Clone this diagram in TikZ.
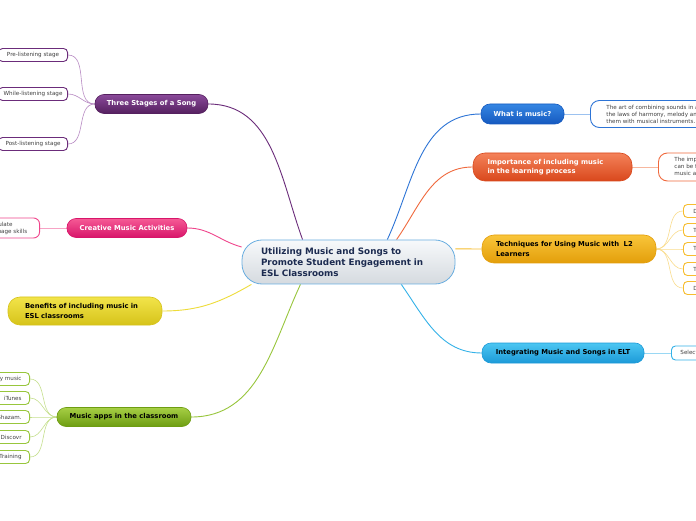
\documentclass[tikz,border=0pt]{standalone}
\usepackage{fontspec}
\setmainfont{DejaVu Sans}
\usepackage{xcolor}
\usepackage{tikz}
\usetikzlibrary{positioning,backgrounds}

\definecolor{hubTop}{HTML}{F7F9FB}
\definecolor{hubBot}{HTML}{D5DADF}
\definecolor{hubEdge}{HTML}{6AAEE0}
\definecolor{hubText}{HTML}{1C2B50}
\definecolor{leafText}{HTML}{404040}
\definecolor{purpleTop}{HTML}{8A4A9A}
\definecolor{purpleBot}{HTML}{55205F}
\definecolor{purpleLine}{HTML}{6B2C7A}
\definecolor{purpleSoft}{HTML}{B98CC4}
\definecolor{pinkTop}{HTML}{F55A95}
\definecolor{pinkBot}{HTML}{D8156A}
\definecolor{pinkLine}{HTML}{F0458C}
\definecolor{pinkSoft}{HTML}{F7A3C5}
\definecolor{yellowTop}{HTML}{F2E44A}
\definecolor{yellowBot}{HTML}{D6C31A}
\definecolor{yellowLine}{HTML}{EEDC3A}
\definecolor{greenTop}{HTML}{A6CF45}
\definecolor{greenBot}{HTML}{6E9D12}
\definecolor{greenLine}{HTML}{98C63C}
\definecolor{greenSoft}{HTML}{C6E08E}
\definecolor{blueTop}{HTML}{3586E3}
\definecolor{blueBot}{HTML}{1559BF}
\definecolor{blueLine}{HTML}{2D74D6}
\definecolor{blueSoft}{HTML}{9CC2F0}
\definecolor{orangeTop}{HTML}{F4825A}
\definecolor{orangeBot}{HTML}{D9481C}
\definecolor{orangeLine}{HTML}{F06A3E}
\definecolor{orangeSoft}{HTML}{F7B79E}
\definecolor{goldTop}{HTML}{F9C53A}
\definecolor{goldBot}{HTML}{E39E0A}
\definecolor{goldLine}{HTML}{F7BD2E}
\definecolor{goldSoft}{HTML}{FADC8C}
\definecolor{cyanTop}{HTML}{4CC6F2}
\definecolor{cyanBot}{HTML}{1C9AD8}
\definecolor{cyanLine}{HTML}{34B2E8}
\definecolor{cyanSoft}{HTML}{9AD8F4}

\begin{document}
\begin{tikzpicture}[
  x=1pt,
  y=1pt,
  hub/.style={
    draw=hubEdge,
    line width=0.8pt,
    top color=hubTop,
    bottom color=hubBot,
    rounded corners=20pt,
    minimum width=213pt,
    minimum height=44pt,
    text width=175pt,
    inner xsep=19pt,
    align=left,
    text=hubText,
    font=\fontsize{8.8}{11}\selectfont\bfseries
  },
  branch/.style={
    draw=#1Bot,
    line width=0.6pt,
    top color=#1Top,
    bottom color=#1Bot,
    rounded corners=9pt,
    minimum height=19pt,
    inner ysep=2pt,
    font=\fontsize{6.8}{9.5}\selectfont\bfseries
  },
  leaf/.style={
    draw=#1Line,
    fill=white,
    line width=0.9pt,
    rounded corners=4pt,
    minimum height=13pt,
    inner ysep=1.5pt,
    text=leafText,
    font=\fontsize{5.6}{7}\selectfont
  },
  link/.style={
    draw=#1Line,
    line width=0.9pt
  },
  twig/.style={
    draw=#1Soft,
    line width=0.6pt
  }
]
\path[use as bounding box] (0,0) rectangle (696,520);
\clip (0,0) rectangle (696,520);

\node[hub] (title) at (348.5,258)
{Utilizing Music and Songs to\\Promote Student Engagement in\\ESL Classrooms};

\node[
  branch=purple,
  text=white,
  minimum width=113pt
] (stages) at (151.5,416)
{Three Stages of a Song};
\node[leaf=purple, minimum width=69pt, anchor=east] (prelisten) at (68,465) {Pre-listening stage};
\node[leaf=purple, minimum width=69pt, anchor=east] (whilelisten) at (68,426) {While-listening stage};
\node[leaf=purple, minimum width=69pt, anchor=east] (postlisten) at (68,376) {Post-listening stage};

\node[
  branch=pink,
  text=white,
  minimum width=120pt
] (creative) at (127,292)
{Creative Music Activities};
\node[
  leaf=pink,
  anchor=east,
  text width=46pt,
  align=left,
  inner xsep=8pt,
  minimum height=20pt,
  rounded corners=6pt
] (stimulate) at (40,292)
{Stimulate\\language skills};

\node[
  branch=yellow,
  minimum height=28pt,
  rounded corners=12pt,
  text width=120pt,
  inner xsep=17pt,
  align=left
] (benefits) at (85,209)
{Benefits of including music in\\ESL classrooms};

\node[
  branch=green,
  minimum width=134pt
] (apps) at (124,103)
{Music apps in the classroom};
\node[leaf=green, anchor=east, inner xsep=8pt] (spotify) at (30,141) {Spotify music};
\node[leaf=green, anchor=east, inner xsep=8pt] (itunes) at (30,122) {iTunes};
\node[leaf=green, anchor=east, inner xsep=8pt] (shazam) at (30,103) {Shazam.};
\node[leaf=green, anchor=east, inner xsep=8pt] (discovr) at (30,83) {Discovr};
\node[leaf=green, anchor=east, inner xsep=8pt] (training) at (30,63) {Ear Training};

\node[
  branch=blue,
  text=white,
  minimum width=83pt,
  minimum height=20pt
] (whatis) at (522.5,406)
{What is music?};
\node[
  leaf=blue,
  anchor=west,
  align=left,
  inner xsep=16pt,
  minimum height=27pt,
  rounded corners=9pt
] (definition) at (590,406)
{The art of combining sounds in a way that\\the laws of harmony, melody and rhythm\\them with musical instruments.};

\node[
  branch=orange,
  text=white,
  minimum height=28pt,
  rounded corners=12pt,
  text width=130pt,
  inner xsep=14.5pt,
  align=left
] (importance) at (552.5,353)
{Importance of including music\\in the learning process};
\node[
  leaf=orange,
  anchor=west,
  align=left,
  inner xsep=16pt,
  minimum height=28pt,
  rounded corners=9pt
] (impnote) at (658,353)
{The importance of music\\can be found in\\music and language};

\node[
  branch=gold,
  minimum height=28pt,
  rounded corners=12pt,
  text width=146pt,
  inner xsep=14pt,
  align=left
] (techniques) at (569,271)
{Techniques for Using Music with~ L2\\Learners};
\node[leaf=gold, anchor=west, inner xsep=10pt] (dictation) at (683,309) {Dictation};
\node[leaf=gold, anchor=west, inner xsep=10pt] (translation) at (683,290) {Translation};
\node[leaf=gold, anchor=west, inner xsep=10pt] (completion) at (683,271) {Text completion};
\node[leaf=gold, anchor=west, inner xsep=10pt] (truefalse) at (683,251) {True or false};
\node[leaf=gold, anchor=west, inner xsep=10pt] (discussion) at (683,232) {Discussion};

\node[
  branch=cyan,
  minimum width=162pt,
  minimum height=20pt
] (integrating) at (563,167)
{Integrating Music and Songs in ELT};
\node[leaf=cyan, anchor=west, inner xsep=9pt, minimum height=14pt] (selecting) at (671,167) {Selecting songs};

\begin{scope}[on background layer]
\fill[white] (0,0) rectangle (696,520);
\draw[link=purple] (title.154) to[out=110,in=0] (stages.east);
\draw[link=pink] (title.172) to[out=165,in=0] (creative.east);
\draw[link=yellow] (title.193) to[out=210,in=0] (benefits.east);
\draw[link=green] (title.205) to[out=245,in=0] (apps.east);
\draw[link=blue] (title.30) to[out=65,in=180] (whatis.west);
\draw[link=orange] (title.25) to[out=55,in=180] (importance.west);
\draw[link=gold] (title.7) -- (techniques.west);
\draw[link=cyan] (title.337) to[out=-55,in=180] (integrating.west);

\draw[twig=purple] (stages.west) to[out=180,in=0] (prelisten.east);
\draw[twig=purple] (stages.west) to[out=180,in=0] (whilelisten.east);
\draw[twig=purple] (stages.west) to[out=180,in=0] (postlisten.east);
\draw[twig=pink] (creative.west) -- (stimulate.east);
\draw[twig=green] (apps.west) to[out=180,in=0] (spotify.east);
\draw[twig=green] (apps.west) to[out=180,in=0] (itunes.east);
\draw[twig=green] (apps.west) to[out=180,in=0] (shazam.east);
\draw[twig=green] (apps.west) to[out=180,in=0] (discovr.east);
\draw[twig=green] (apps.west) to[out=180,in=0] (training.east);
\draw[twig=blue] (whatis.east) -- (definition.west);
\draw[twig=orange] (importance.east) -- (impnote.west);
\draw[twig=gold] (techniques.east) to[out=0,in=180] (dictation.west);
\draw[twig=gold] (techniques.east) to[out=0,in=180] (translation.west);
\draw[twig=gold] (techniques.east) to[out=0,in=180] (completion.west);
\draw[twig=gold] (techniques.east) to[out=0,in=180] (truefalse.west);
\draw[twig=gold] (techniques.east) to[out=0,in=180] (discussion.west);
\draw[twig=cyan] (integrating.east) -- (selecting.west);
\end{scope}
\end{tikzpicture}
\end{document}
